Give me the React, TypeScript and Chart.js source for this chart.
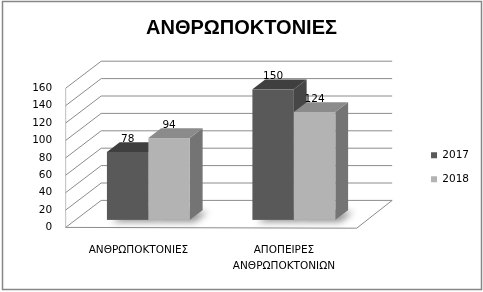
import React, { useEffect, useRef } from 'react';
import { Chart, registerables } from 'chart.js';

Chart.register(...registerables);

// ---- data ----
const chartTitle = 'ΑΝΘΡΩΠΟΚΤΟΝΙΕΣ';
const categories: string[][] = [['ΑΝΘΡΩΠΟΚΤΟΝΙΕΣ'], ['ΑΠΟΠΕΙΡΕΣ', 'ΑΝΘΡΩΠΟΚΤΟΝΙΩΝ']];
const seriesNames = ['2017', '2018'];
const values2017 = [78, 150];
const values2018 = [94, 124];
const yMin = 0;
const yMax = 160;
const yStep = 20;

// ---- style ----
const FONT = 'DejaVu Sans';
const faceColors = [
  { front: '#595959', top: '#3f3f3f', side: '#464646' },
  { front: '#b3b3b3', top: '#8b8b8b', side: '#747474' },
];
const DX = 35.5; // depth of the box (back wall offset)
const DY = -27;
const FRONT_F = 0.28; // bar front position in depth
const DEPTH_F = 0.36; // bar depth

const plugin3d = {
  id: 'bars3d',
  beforeDraw(chart: any) {
    const { ctx } = chart;
    ctx.save();
    ctx.fillStyle = '#ffffff';
    ctx.fillRect(0, 0, chart.width, chart.height);
    ctx.strokeStyle = '#868686';
    ctx.lineWidth = 1.5;
    ctx.strokeRect(2.5, 1.5, 479, 288);
    ctx.restore();
  },
  beforeDatasetsDraw(chart: any) {
    const { ctx, chartArea: a } = chart;
    const y = chart.scales.y;
    ctx.save();
    ctx.lineWidth = 1;
    // front-left vertical edge
    ctx.strokeStyle = '#bdbdbd';
    ctx.beginPath();
    ctx.moveTo(a.left, y.getPixelForValue(yMax));
    ctx.lineTo(a.left, y.getPixelForValue(yMin));
    ctx.stroke();
    // gridlines on back wall and left wall
    ctx.strokeStyle = '#8c8c8c';
    for (const t of y.ticks) {
      const py = y.getPixelForValue(t.value);
      ctx.beginPath();
      ctx.moveTo(a.left, py);
      ctx.lineTo(a.left + DX, py + DY);
      ctx.lineTo(a.right + DX, py + DY);
      ctx.stroke();
    }
    // floor edges
    const p0 = y.getPixelForValue(yMin);
    ctx.strokeStyle = '#8c8c8c';
    ctx.beginPath();
    ctx.moveTo(a.left, p0);
    ctx.lineTo(a.right, p0 + 0.8);
    ctx.lineTo(a.right + DX, p0 + DY);
    ctx.stroke();

    const fx = DX * FRONT_F, fy = DY * FRONT_F;
    const bx = DX * DEPTH_F, by = DY * DEPTH_F;
    const n = chart.data.labels.length;
    const nd = chart.data.datasets.length;

    // soft shadow on floor
    for (let i = 0; i < n; i++) {
      for (let d = 0; d < nd; d++) {
        const el = chart.getDatasetMeta(d).data[i];
        const { x, base, width } = el.getProps(['x', 'base', 'width'], true);
        const x0 = x - width / 2 + fx, x1 = x + width / 2 + fx, yb = base + fy;
        ctx.save();
        ctx.shadowColor = 'rgba(0,0,0,0.45)';
        ctx.shadowBlur = 7;
        ctx.shadowOffsetX = 5;
        ctx.shadowOffsetY = 2;
        ctx.fillStyle = '#999';
        ctx.beginPath();
        ctx.moveTo(x0, yb);
        ctx.lineTo(x1, yb);
        ctx.lineTo(x1 + bx, yb + by);
        ctx.lineTo(x0 + bx, yb + by);
        ctx.closePath();
        ctx.fill();
        ctx.restore();
      }
    }

    // bars
    for (let i = 0; i < n; i++) {
      for (let d = 0; d < nd; d++) {
        const el = chart.getDatasetMeta(d).data[i];
        const { x, y: top, base, width } = el.getProps(['x', 'y', 'base', 'width'], true);
        const c = faceColors[d];
        const x0 = x - width / 2 + fx, x1 = x + width / 2 + fx;
        const yt = top + fy, yb = base + fy;
        // side
        ctx.fillStyle = c.side;
        ctx.beginPath();
        ctx.moveTo(x1, yt);
        ctx.lineTo(x1 + bx, yt + by);
        ctx.lineTo(x1 + bx, yb + by);
        ctx.lineTo(x1, yb);
        ctx.closePath();
        ctx.fill();
        // top
        ctx.fillStyle = c.top;
        ctx.beginPath();
        ctx.moveTo(x0, yt);
        ctx.lineTo(x1, yt);
        ctx.lineTo(x1 + bx, yt + by);
        ctx.lineTo(x0 + bx, yt + by);
        ctx.closePath();
        ctx.fill();
        // front
        ctx.fillStyle = c.front;
        ctx.fillRect(x0, yt, x1 - x0, yb - yt);
      }
    }

    // data labels
    ctx.fillStyle = '#000';
    ctx.font = `10.5px "${FONT}"`;
    ctx.textAlign = 'center';
    ctx.textBaseline = 'middle';
    for (let d = 0; d < nd; d++) {
      const ds = chart.data.datasets[d];
      chart.getDatasetMeta(d).data.forEach((el: any, i: number) => {
        const { x, y: top } = el.getProps(['x', 'y'], true);
        ctx.fillText(String(ds.data[i]), x + fx, top + fy - 12.7);
      });
    }
    ctx.restore();
    return false;
  },
};

export default function App() {
  const ref = useRef<HTMLCanvasElement>(null);
  useEffect(() => {
    if (!ref.current) return;
    const chart = new Chart(ref.current, {
      type: 'bar',
      data: {
        labels: categories,
        datasets: [
          {
            label: seriesNames[0],
            data: values2017,
            backgroundColor: faceColors[0].front,
            borderWidth: 0,
            categoryPercentage: 0.57,
            barPercentage: 1,
          },
          {
            label: seriesNames[1],
            data: values2018,
            backgroundColor: faceColors[1].front,
            borderWidth: 0,
            categoryPercentage: 0.57,
            barPercentage: 1,
          },
        ],
      },
      options: {
        responsive: false,
        animation: false,
        devicePixelRatio: 1,
        layout: { padding: { left: 4, right: 4, top: 0, bottom: 0 } },
        plugins: {
          title: {
            display: true,
            text: chartTitle,
            color: '#000',
            font: { family: 'Liberation Sans', size: 20, weight: 'bold', lineHeight: 1.2 },
            padding: { top: 16, bottom: 48.2 },
          },
          legend: {
            position: 'right',
            fullSize: false,
            title: { display: true, text: '', padding: { top: 7, bottom: 0 }, font: { size: 10 } },
            labels: {
              boxWidth: 6,
              boxHeight: 6,
              padding: 13.5,
              color: '#000',
              font: { family: FONT, size: 10.5 },
            },
          },
          tooltip: { enabled: false },
        },
        scales: {
          x: {
            grid: { display: false, drawTicks: false },
            border: { display: false },
            ticks: {
              color: '#000',
              padding: 14.3,
              font: { family: FONT, size: 10.5, lineHeight: 1.57 },
              maxRotation: 0,
              autoSkip: false,
            },
            afterFit: (s: any) => {
              s.height = 64.6;
            },
          },
          y: {
            min: yMin,
            max: yMax,
            grid: { display: false, drawTicks: false },
            border: { display: false },
            ticks: {
              stepSize: yStep,
              color: '#000',
              padding: 13.5,
              font: { family: FONT, size: 10.5 },
            },
            afterFit: (s: any) => {
              s.width = 61.7;
            },
          },
          yR: {
            position: 'right',
            display: true,
            grid: { display: false, drawTicks: false },
            border: { display: false },
            ticks: { display: false },
            afterFit: (s: any) => {
              s.width = 60.85;
            },
          },
        },
      },
      plugins: [plugin3d],
    } as any);
    return () => chart.destroy();
  }, []);
  return (
    <div style={{ position: 'fixed', left: 0, top: 0, width: 483, height: 292 }}>
      <canvas ref={ref} width={483} height={292} style={{ display: 'block' }} />
    </div>
  );
}
